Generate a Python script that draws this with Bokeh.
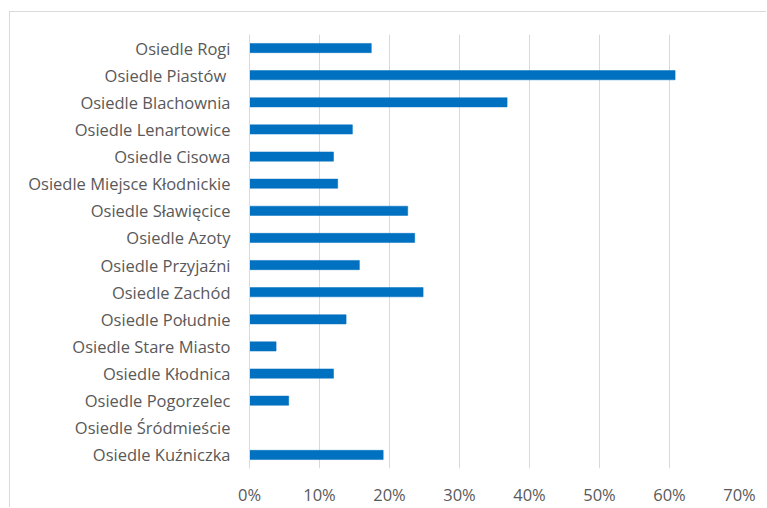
from bokeh.plotting import figure
from bokeh.models import NumeralTickFormatter, FixedTicker, Range1d
from bokeh.embed import file_html
from bokeh.resources import INLINE

categories = [
    "Osiedle Rogi",
    "Osiedle Piastów ",
    "Osiedle Blachownia",
    "Osiedle Lenartowice",
    "Osiedle Cisowa",
    "Osiedle Miejsce Kłodnickie",
    "Osiedle Sławięcice",
    "Osiedle Azoty",
    "Osiedle Przyjaźni",
    "Osiedle Zachód",
    "Osiedle Południe",
    "Osiedle Stare Miasto",
    "Osiedle Kłodnica",
    "Osiedle Pogorzelec",
    "Osiedle Śródmieście",
    "Osiedle Kuźniczka",
]
values = [0.174, 0.608, 0.368, 0.147, 0.120, 0.126, 0.226, 0.236,
          0.157, 0.248, 0.138, 0.038, 0.120, 0.056, 0.0, 0.191]
x_ticks = [0, 0.1, 0.2, 0.3, 0.4, 0.5, 0.6, 0.7]

FONT = "Open Sans"
TEXT = "#595959"
GRID = "#d9d9d9"

p = figure(
    width=757, height=496,
    y_range=list(reversed(categories)),
    x_range=Range1d(0, 0.70),
    output_backend="svg", toolbar_location=None,
    min_border_left=239, min_border_right=28,
    min_border_top=22, min_border_bottom=40,
)
p.styles = {"border-left": "1px solid #d9d9d9", "border-top": "1px solid #d9d9d9",
            "margin-left": "9px", "margin-top": "11px"}

p.hbar(y=categories, right=values, left=0, height=0.34,
       fill_color="#0070c0", line_color="#0070c0", line_width=0.5)

p.outline_line_color = None
p.background_fill_color = "white"

p.xaxis.ticker = FixedTicker(ticks=x_ticks)
p.xaxis.formatter = NumeralTickFormatter(format="0%")
p.xaxis.axis_line_color = None
p.xaxis.major_tick_line_color = None
p.xaxis.major_tick_out = 0
p.xaxis.major_tick_in = 0
p.xaxis.minor_tick_line_color = None
p.xaxis.major_label_standoff = 14
p.xaxis.major_label_text_font = FONT
p.xaxis.major_label_text_font_size = "16.5px"
p.xaxis.major_label_text_color = TEXT

p.yaxis.axis_line_color = GRID
p.yaxis.major_tick_line_color = None
p.yaxis.major_tick_out = 0
p.yaxis.major_tick_in = 0
p.yaxis.minor_tick_line_color = None
p.yaxis.major_label_standoff = 19
p.yaxis.major_label_text_font = FONT
p.yaxis.major_label_text_font_size = "16.5px"
p.yaxis.major_label_text_color = TEXT

p.xgrid.grid_line_color = GRID
p.xgrid.grid_line_width = 1
p.ygrid.grid_line_color = None

open("out.html", "w").write(file_html(p, INLINE))
